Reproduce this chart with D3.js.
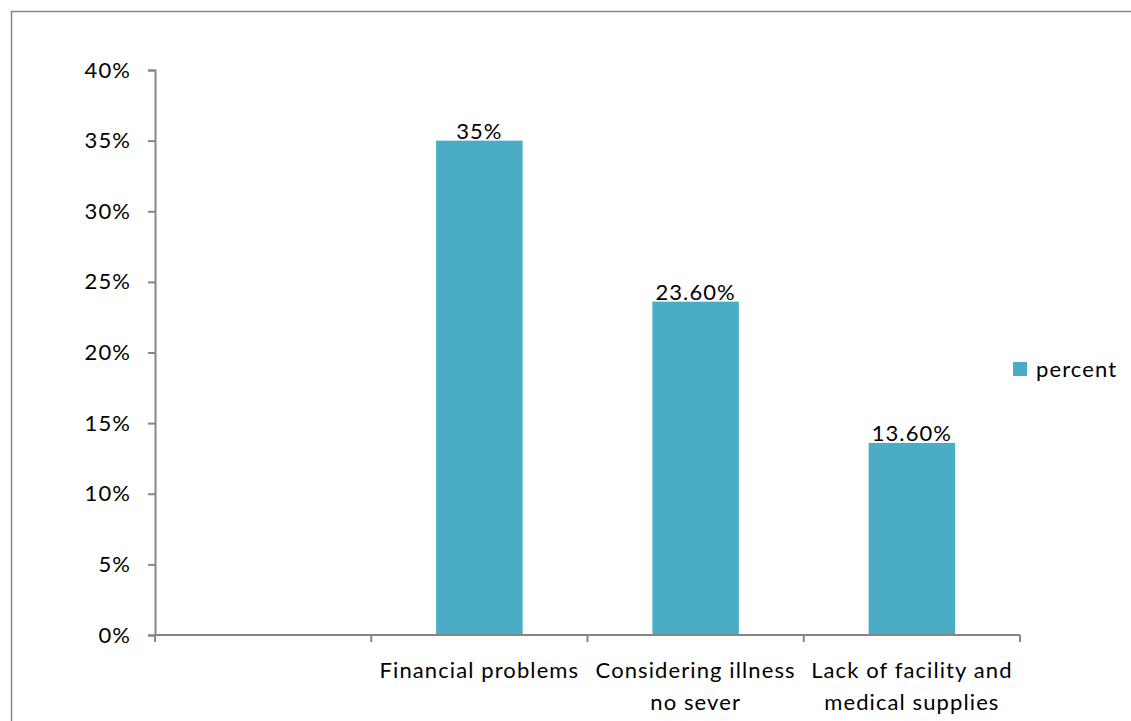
<!DOCTYPE html>
<html>
<head>
<meta charset="utf-8">
<script src="https://cdn.jsdelivr.net/npm/d3@7"></script>
<style>
  body { margin: 0; background: #fff; }
  text { font-family: Lato, "Open Sans", sans-serif; fill: #000; letter-spacing: 1.1px; }
</style>
</head>
<body>
<div class="chart"></div>
<script>
// data
const categories = ['blank', 'Financial problems', 'Considering illness no sever', 'Lack of facility and medical supplies']
const categoryLines = [[], ['Financial problems'], ['Considering illness', 'no sever'], ['Lack of facility and', 'medical supplies']]
const values = [null, 0.35, 0.236, 0.136]
const valueLabels = ['', '35%', '23.60%', '13.60%']
const yTicks = [0, 0.05, 0.1, 0.15, 0.2, 0.25, 0.3, 0.35, 0.4]
const seriesName = 'percent'

const width = 1131
const height = 721
const plot = { left: 155, right: 1020, top: 70, bottom: 635 }
const barColor = '#4bacc6'
const axisColor = '#868686'
const fontSize = '22px'

const svg = d3.select('.chart')
    .append('svg')
    .attr('width', width)
    .attr('height', height)

// outer chart frame (runs off the right and bottom edge)
svg.append('rect')
    .attr('x', 11.5)
    .attr('y', 11.5)
    .attr('width', 1300)
    .attr('height', 900)
    .attr('fill', 'none')
    .attr('stroke', '#878787')
    .attr('stroke-width', 1.5)

const xScale = d3.scaleBand()
    .domain(categories)
    .range([plot.left, plot.right])
    .padding(0)

const yScale = d3.scaleLinear()
    .domain([0, 0.4])
    .range([plot.bottom, plot.top])

// y axis
const yAxis = d3.axisLeft(yScale)
    .tickValues(yTicks)
    .tickFormat(d3.format('.0%'))
    .tickSize(7)
    .tickPadding(17)

const gy = svg.append('g')
    .attr('transform', `translate(${plot.left},0)`)
    .call(yAxis)
gy.select('.domain').attr('stroke', axisColor).attr('stroke-width', 2)
gy.selectAll('.tick line').attr('stroke', axisColor).attr('stroke-width', 2)
gy.selectAll('.tick text').style('font-size', fontSize).attr('fill', '#000')

const barData = categories.map((c, i) => ({ c, v: values[i], label: valueLabels[i] })).filter(d => d.v != null)

// bars
const barWidth = xScale.bandwidth() * 0.4
svg.selectAll('rect.bar')
    .data(barData)
    .enter()
    .append('rect')
    .attr('class', 'bar')
    .attr('x', d => xScale(d.c) + (xScale.bandwidth() - barWidth) / 2)
    .attr('y', d => yScale(d.v))
    .attr('width', barWidth)
    .attr('height', d => yScale(0) - yScale(d.v))
    .attr('fill', barColor)

// value labels
svg.selectAll('text.val')
    .data(barData)
    .enter()
    .append('text')
    .attr('class', 'val')
    .attr('x', d => xScale(d.c) + xScale.bandwidth() / 2)
    .attr('y', d => yScale(d.v) - 2)
    .attr('text-anchor', 'middle')
    .style('font-size', fontSize)
    .text(d => d.label)

// x axis: ticks at category boundaries
const gx = svg.append('g')
    .attr('transform', `translate(0,${plot.bottom})`)
gx.append('line')
    .attr('x1', plot.left).attr('x2', plot.right)
    .attr('stroke', axisColor).attr('stroke-width', 2)
gx.selectAll('line.tick')
    .data(categories.map(c => xScale(c)).concat([plot.right]))
    .enter()
    .append('line')
    .attr('class', 'tick')
    .attr('x1', d => d).attr('x2', d => d)
    .attr('y1', 0).attr('y2', 7)
    .attr('stroke', axisColor).attr('stroke-width', 2)

categories.forEach((c, i) => {
    const cx = xScale(c) + xScale.bandwidth() / 2
    const t = gx.append('text')
        .attr('x', cx)
        .attr('y', 43)
        .attr('text-anchor', 'middle')
        .style('font-size', fontSize)
    categoryLines[i].forEach((line, j) => {
        t.append('tspan')
            .attr('x', cx)
            .attr('dy', j === 0 ? 0 : 32)
            .text(line)
    })
})

// legend
const legend = svg.append('g').attr('transform', 'translate(1013,362)')
legend.append('rect')
    .attr('width', 14).attr('height', 14)
    .attr('fill', barColor)
legend.append('text')
    .attr('x', 23).attr('y', 15)
    .style('font-size', fontSize)
    .text(seriesName)
</script>
</body>
</html>
